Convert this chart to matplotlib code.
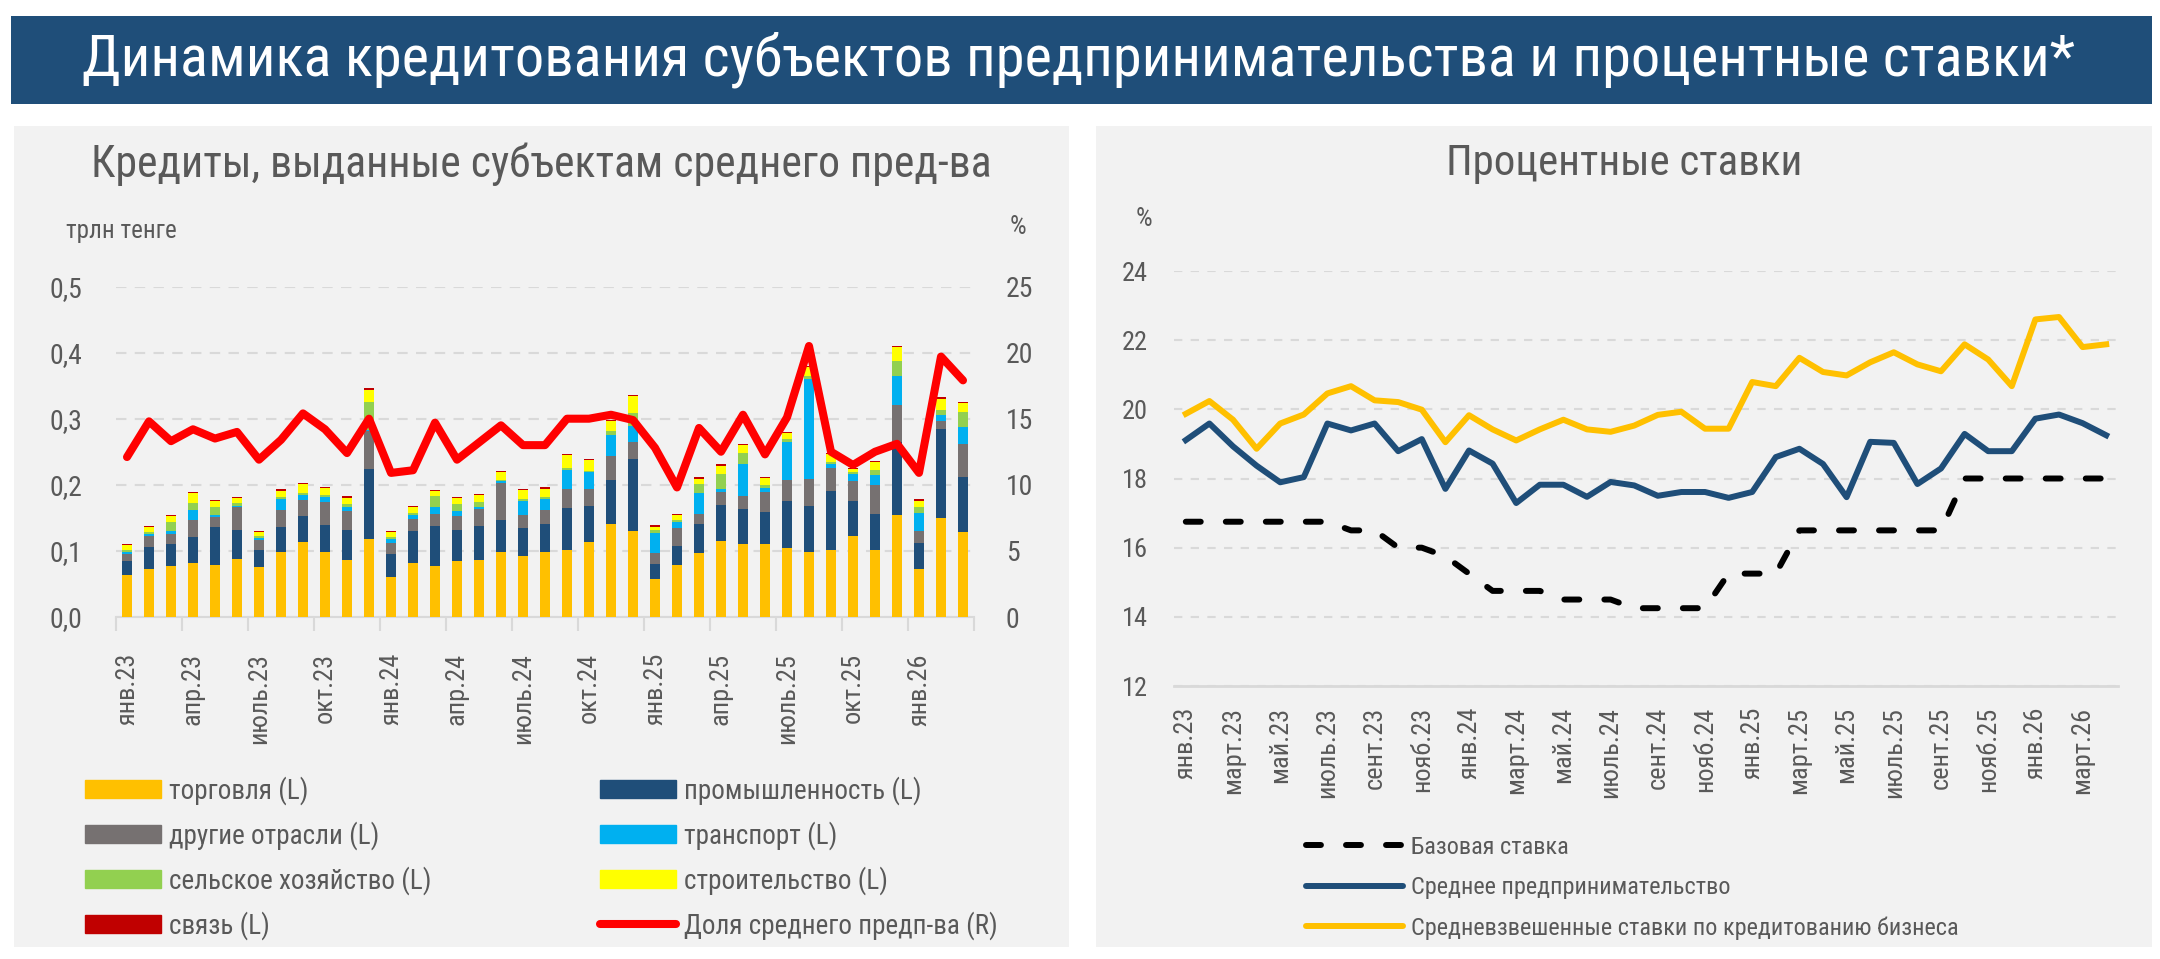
import matplotlib
matplotlib.use("Agg")
import matplotlib.pyplot as plt
from matplotlib import font_manager
from matplotlib.patches import Rectangle, Patch
from matplotlib.lines import Line2D
import numpy as np

# ---------------- data ----------------
left_tick_labels = ['янв.23', 'апр.23', 'июль.23', 'окт.23', 'янв.24', 'апр.24', 'июль.24',
                    'окт.24', 'янв.25', 'апр.25', 'июль.25', 'окт.25', 'янв.26']
right_tick_labels = ['янв.23', 'март.23', 'май.23', 'июль.23', 'сент.23', 'нояб.23', 'янв.24',
                     'март.24', 'май.24', 'июль.24', 'сент.24', 'нояб.24', 'янв.25', 'март.25',
                     'май.25', 'июль.25', 'сент.25', 'нояб.25', 'янв.26', 'март.26']

trade = [.063, .073, .077, .082, .078, .088, .076, .099, .113, .099, .086, .118, .060,
         .081, .077, .084, .086, .098, .092, .098, .102, .114, .140, .130, .057, .078, .097,
         .115, .111, .110, .104, .099, .102, .122, .101, .154, .072, .150, .129]
industry = [.021, .033, .034, .039, .058, .044, .026, .037, .040, .040, .046, .106, .036,
            .049, .060, .048, .052, .049, .043, .043, .063, .054, .067, .109, .023, .029, .044,
            .055, .053, .049, .072, .069, .088, .053, .055, .111, .040, .135, .083]
other = [.012, .016, .015, .026, .016, .035, .015, .026, .024, .035, .028, .057, .016,
         .019, .019, .021, .025, .055, .019, .021, .029, .026, .037, .026, .017, .028, .015,
         .019, .019, .030, .032, .041, .035, .031, .044, .055, .018, .012, .050]
transport = [.003, .003, .004, .015, .002, .001, .003, .017, .008, .007, .007, .002, .006,
             .005, .011, .008, .004, .003, .022, .016, .028, .025, .031, .024, .030, .008, .032,
             .005, .048, .006, .056, .151, .006, .010, .015, .045, .028, .008, .025]
agriculture = [.003, .003, .013, .010, .012, .005, .002, .002, .003, .004, .004, .043, .003,
               .004, .016, .010, .007, .003, .003, .003, .003, .002, .006, .020, .005, .004, .013,
               .022, .017, .004, .005, .005, .003, .003, .008, .023, .008, .008, .023]
construction = [.007, .008, .010, .015, .010, .007, .007, .010, .013, .010, .009, .018, .007,
                .008, .007, .009, .010, .011, .013, .013, .020, .016, .015, .025, .004, .007, .008,
                .012, .012, .011, .009, .013, .012, .005, .011, .020, .010, .017, .014]
communication = [.002, .002, .002, .002, .0015, .0015, .0015, .002, .002, .002, .0025, .002, .002,
                 .002, .002, .002, .002, .002, .002, .0025, .002, .002, .002, .0015, .0025, .0025, .0025,
                 .003, .0015, .0025, .002, .002, .002, .0015, .002, .0025, .002, .0025, .002]
share_medium = [12.1, 14.8, 13.3, 14.2, 13.5, 14.0, 11.9, 13.4, 15.4, 14.2, 12.4, 15.0, 10.9,
                11.1, 14.7, 11.9, 13.2, 14.5, 13.0, 13.0, 15.0, 15.0, 15.3, 14.9, 12.8, 9.8, 14.3,
                12.5, 15.3, 12.3, 15.1, 20.5, 12.5, 11.5, 12.5, 13.1, 10.9, 19.7, 17.9]

base_rate = [16.75, 16.75, 16.75, 16.75, 16.75, 16.75, 16.75, 16.5, 16.5, 16.0,
             16.0, 15.75, 15.25, 14.75, 14.75, 14.75, 14.5, 14.5, 14.5, 14.25,
             14.25, 14.25, 14.25, 15.25, 15.25, 15.25, 16.5, 16.5, 16.5, 16.5,
             16.5, 16.5, 16.5, 18.0, 18.0, 18.0, 18.0, 18.0, 18.0, 18.0]
sme_rate = [19.11, 19.59, 18.93, 18.37, 17.89, 18.04, 19.59, 19.39, 19.59, 18.79,
            19.14, 17.70, 18.81, 18.43, 17.29, 17.82, 17.82, 17.47, 17.90, 17.80,
            17.50, 17.61, 17.61, 17.44, 17.61, 18.62, 18.86, 18.42, 17.46, 19.06,
            19.03, 17.84, 18.29, 19.29, 18.79, 18.79, 19.73, 19.85, 19.60, 19.25]
business_rate = [19.87, 20.24, 19.70, 18.86, 19.59, 19.85, 20.46, 20.67, 20.26, 20.21,
                 19.99, 19.05, 19.83, 19.42, 19.10, 19.42, 19.70, 19.42, 19.35, 19.53,
                 19.84, 19.93, 19.44, 19.44, 20.79, 20.67, 21.49, 21.08, 20.98, 21.36,
                 21.65, 21.30, 21.10, 21.88, 21.44, 20.67, 22.60, 22.67, 21.80, 21.88]

# ---------------- fonts ----------------
def pick_font():
    fl = font_manager.fontManager.ttflist
    names = {f.name for f in fl}
    for c in ["Roboto Condensed", "Liberation Sans Narrow", "Open Sans Condensed"]:
        if c in names:
            return c, "normal"
    for f in fl:
        if f.name == "DejaVu Sans" and f.stretch in ("condensed", "semi-condensed"):
            return "DejaVu Sans", "condensed"
    return "Liberation Sans", "normal"

FONT, STRETCH = pick_font()
plt.rcParams['font.family'] = [FONT, 'DejaVu Sans']
plt.rcParams['font.stretch'] = STRETCH

GRAY_TXT = '#595959'
GRID = '#D9D9D9'

W, H = 2160, 959
fig = plt.figure(figsize=(W / 100, H / 100), dpi=100)
fig.patch.set_facecolor('white')


def fx(px):
    return px / W


def fy(py):
    return 1 - py / H


# banner and panels
fig.patches.append(Rectangle((fx(11), fy(104)), fx(2152) - fx(11), fy(16) - fy(104),
                             transform=fig.transFigure, facecolor='#1F4E79',
                             edgecolor='none', zorder=-2))
fig.text(fx(1079), fy(60), 'Динамика кредитования субъектов предпринимательства и процентные ставки*',
         color='white', fontsize=42, ha='center', va='center')
for x0, x1 in [(14, 1069), (1096, 2152)]:
    fig.patches.append(Rectangle((fx(x0), fy(947)), fx(x1) - fx(x0), fy(126) - fy(947),
                                 transform=fig.transFigure, facecolor='#F2F2F2',
                                 edgecolor='none', zorder=-2))

fig.text(fx(541), fy(164), 'Кредиты, выданные субъектам среднего пред-ва',
         color=GRAY_TXT, fontsize=31.5, ha='center', va='center')
fig.text(fx(1624), fy(164), 'Процентные ставки',
         color=GRAY_TXT, fontsize=31, ha='center', va='center')

# ---------------- left chart ----------------
ax1 = fig.add_axes([fx(116), fy(617), fx(974) - fx(116), fy(286.5) - fy(617)])
ax1.set_facecolor('none')
x = np.arange(len(trade))
series = [trade, industry, other, transport, agriculture, construction, communication]
colors = ['#FFC000', '#1F4E79', '#767171', '#00B0F0', '#92D050', '#FFFF00', '#C00000']
bottom = np.zeros(len(x))
for vals, col in zip(series, colors):
    v = np.array(vals)
    ax1.bar(x, v, width=0.43, bottom=bottom, color=col, linewidth=0, zorder=3)
    bottom += v

ax1.set_xlim(-0.5, len(x) - 0.5)
ax1.set_ylim(0, 0.5)
ax1.set_yticks([0, .1, .2, .3, .4, .5])
ax1.set_yticklabels(['0,0', '0,1', '0,2', '0,3', '0,4', '0,5'])
ax1.tick_params(axis='y', length=0, pad=24, labelsize=20, labelcolor=GRAY_TXT)
ax1.yaxis.grid(True, color=GRID, lw=1.5, linestyle=(0, (5, 4)))
ax1.set_axisbelow(True)
ax1.set_xticks(np.arange(-0.5, len(x), 3))
ax1.set_xticklabels([])
ax1.set_xticks(np.arange(0, len(x), 3), minor=True)
ax1.set_xticklabels(left_tick_labels, minor=True, rotation=90)
ax1.tick_params(axis='x', which='major', length=10, color=GRID, width=1.5)
ax1.tick_params(axis='x', which='minor', length=0, pad=26, labelsize=19, labelcolor=GRAY_TXT)
for s in ['top', 'left', 'right']:
    ax1.spines[s].set_visible(False)
ax1.spines['bottom'].set_color(GRID)
ax1.spines['bottom'].set_linewidth(1.5)

ax2 = ax1.twinx()
ax2.plot(x, share_medium, color='#FF0000', lw=5.8, solid_joinstyle='round',
         solid_capstyle='round', zorder=5)
ax2.set_ylim(0, 25)
ax2.set_yticks(range(0, 26, 5))
ax2.tick_params(axis='y', length=0, pad=23, labelsize=20, labelcolor=GRAY_TXT)
for s in ax2.spines.values():
    s.set_visible(False)

fig.text(fx(66), fy(231), 'трлн тенге', color=GRAY_TXT, fontsize=18, ha='left', va='center')
fig.text(fx(1018), fy(227), '%', color=GRAY_TXT, fontsize=19, ha='center', va='center')

leg_kw = dict(frameon=False, fontsize=19.5, handlelength=2.8, handleheight=0.66,
              handletextpad=0.3, labelspacing=0.6, borderpad=0, borderaxespad=0,
              labelcolor=GRAY_TXT, loc='upper left')
h_trade = Patch(color=colors[0], label='торговля (L)')
h_ind = Patch(color=colors[1], label='промышленность (L)')
h_oth = Patch(color=colors[2], label='другие отрасли (L)')
h_tr = Patch(color=colors[3], label='транспорт (L)')
h_agr = Patch(color=colors[4], label='сельское хозяйство (L)')
h_con = Patch(color=colors[5], label='строительство (L)')
h_com = Patch(color=colors[6], label='связь (L)')
h_share = Line2D([], [], color='#FF0000', lw=5.8, solid_capstyle='round',
                 label='Доля среднего предп-ва (R)')
fig.legend(handles=[h_trade, h_oth, h_agr, h_com], bbox_to_anchor=(fx(85), fy(776)), **leg_kw)
fig.legend(handles=[h_ind, h_tr, h_con, h_share], bbox_to_anchor=(fx(600), fy(776)), **leg_kw)

# ---------------- right chart ----------------
ax3 = fig.add_axes([fx(1174), fy(686), fx(2118) - fx(1174), fy(271) - fy(686)])
ax3.set_facecolor('none')
xr = np.arange(len(base_rate))
ax3.plot(xr, base_rate, color='black', lw=4.3, linestyle=(0, (2.5, 4.2)),
         dash_capstyle='round', zorder=3)
ax3.plot(xr, sme_rate, color='#1F4E79', lw=4.3, solid_joinstyle='round', zorder=3)
ax3.plot(xr, business_rate, color='#FFC000', lw=4.3, solid_joinstyle='round', zorder=3)
ax3.set_xlim(-0.5, len(xr) - 0.5)
ax3.set_ylim(12, 24)
ax3.set_yticks(range(12, 25, 2))
ax3.tick_params(axis='y', length=0, pad=19, labelsize=19, labelcolor=GRAY_TXT)
ax3.yaxis.grid(True, color=GRID, lw=1.5, linestyle=(0, (4, 4)))
ax3.set_axisbelow(True)
ax3.set_xticks(np.arange(0, len(xr), 2))
ax3.set_xticklabels(right_tick_labels, rotation=90)
ax3.tick_params(axis='x', length=0, pad=15, labelsize=19, labelcolor=GRAY_TXT)
for s in ['top', 'left', 'right']:
    ax3.spines[s].set_visible(False)
ax3.spines['bottom'].set_color(GRID)
ax3.spines['bottom'].set_linewidth(2)

fig.text(fx(1144), fy(219), '%', color=GRAY_TXT, fontsize=19, ha='center', va='center')

r_handles = [
    Line2D([], [], color='black', lw=4.3, linestyle=(0, (2.5, 4.2)), dash_capstyle='round',
           label='Базовая ставка'),
    Line2D([], [], color='#1F4E79', lw=4.3, solid_capstyle='round',
           label='Среднее предпринимательство'),
    Line2D([], [], color='#FFC000', lw=4.3, solid_capstyle='round',
           label='Средневзвешенные ставки по кредитованию бизнеса'),
]
fig.legend(handles=r_handles, bbox_to_anchor=(fx(1306), fy(836)), frameon=False, fontsize=17.5,
           handlelength=4.0, handletextpad=0.3, labelspacing=0.7, borderpad=0, borderaxespad=0,
           labelcolor=GRAY_TXT, loc='upper left')

fig.savefig('out.png', dpi=100, facecolor='white')
